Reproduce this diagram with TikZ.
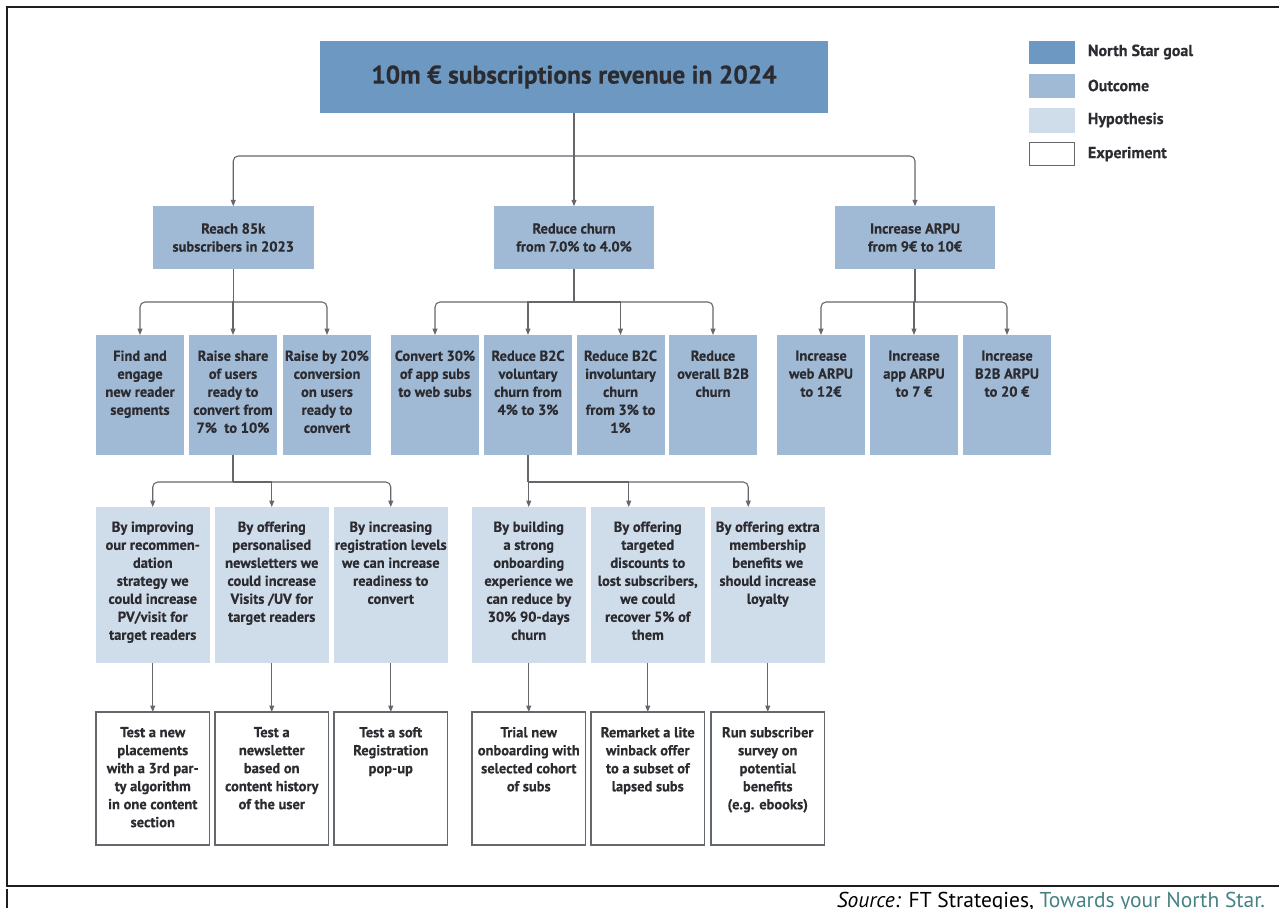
\documentclass[tikz,border=0pt]{standalone}
\usepackage{fontspec}
\setmainfont{PT Sans}[BoldFeatures={FakeBold=0.35}]
\newfontfamily\srcfont{PT Sans}
\usetikzlibrary{arrows.meta}
\definecolor{nsg}{RGB}{108,152,194}
\definecolor{outc}{RGB}{160,186,214}
\definecolor{hypc}{RGB}{207,220,234}
\definecolor{txtc}{RGB}{43,43,48}
\definecolor{linec}{RGB}{100,104,108}
\definecolor{srcteal}{RGB}{70,130,132}
\definecolor{framec}{RGB}{30,30,30}
\begin{document}
\begin{tikzpicture}[x=1pt,y=-1pt,
  every node/.style={inner sep=0pt, outer sep=0pt},
  goalbox/.style={fill=nsg, draw=none},
  outbox/.style={fill=outc, draw=none, minimum width=88, minimum height=120, anchor=north west},
  hypbox/.style={fill=hypc, draw=none, minimum width=113.5, minimum height=156, anchor=north west},
  expbox/.style={fill=white, draw=linec, line width=1.2pt, minimum width=113.5, minimum height=133, anchor=north west},
  lbl/.style={text=txtc, font=\bfseries\fontsize{14.5}{18}\selectfont, align=center},
  lgd/.style={text=txtc, font=\bfseries\fontsize{16}{18}\selectfont, anchor=west},
  conn/.style={draw=linec, line width=1.1pt},
  arr/.style={conn, -{Triangle[length=6.5pt,width=5pt]}},
  frameline/.style={draw=framec, line width=2pt}
]
\useasboundingbox (0,0) rectangle (1279,908);
\fill[white] (0,0) rectangle (1279,908);

% frame
\draw[frameline] (1279,7) -- (6.5,7) -- (6.5,886) -- (1279,886);
\draw[frameline] (6.5,888.5) -- (6.5,908);

% North star goal
\node[goalbox, minimum width=508, minimum height=72, text=txtc,
      font=\bfseries\fontsize{25.5}{30}\selectfont] (t) at (574,77) {10m € subscriptions revenue in 2024};

% legend
\node[goalbox, minimum width=46, minimum height=23, anchor=north west] (lg1) at (1029,41) {};
\node[fill=outc, minimum width=46, minimum height=24, anchor=north west] (lg2) at (1029,74) {};
\node[fill=hypc, minimum width=46, minimum height=25, anchor=north west] (lg3) at (1029,108) {};
\node[draw=linec, line width=1.1pt, fill=white, minimum width=45, minimum height=23, anchor=north west] (lg4) at (1029.5,142.5) {};
\node[lgd] (lg1t) at (1088,52) {North Star goal};
\node[lgd] (lg2t) at (1088,85.5) {Outcome};
\node[lgd] (lg3t) at (1088,120) {Hypothesis};
\node[lgd] (lg4t) at (1088,154) {Experiment};

% outcomes level 1
\node[fill=outc, minimum width=160.5, minimum height=62.5, lbl] (a) at (233.25,237.5) {Reach 85k\\subscribers in 2023};
\node[fill=outc, minimum width=160, minimum height=62.5, lbl] (b) at (574,237.5) {Reduce churn\\from 7.0\% to 4.0\%};
\node[fill=outc, minimum width=160, minimum height=62.5, lbl] (c) at (915,237.5) {Increase ARPU\\from 9€ to 10€};

% outcomes level 2
\node[outbox] (a1) at (96,335) {};
\node[outbox] (a2) at (189,335) {};
\node[outbox] (a3) at (283,335) {};
\node[outbox] (b1) at (391,335) {};
\node[outbox] (b2) at (484,335) {};
\node[outbox] (b3) at (576.5,335) {};
\node[outbox] (b4) at (669,335) {};
\node[outbox] (c1) at (777,335) {};
\node[outbox] (c2) at (870,335) {};
\node[outbox] (c3) at (963,335) {};

\node[lbl, anchor=north] (a1t) at ([yshift=-15.5pt]a1.north) {Find and\\engage\\new reader\\segments};
\node[lbl, anchor=north] (a2t) at ([yshift=-15.5pt]a2.north) {Raise share\\of users\\ready to\\convert from\\7\% \ to 10\%};
\node[lbl, anchor=north] (a3t) at ([yshift=-15.5pt]a3.north) {Raise by 20\%\\conversion\\on users\\ready to\\convert};
\node[lbl, anchor=north] (b1t) at ([yshift=-15.5pt]b1.north) {Convert 30\%\\of app subs\\to web subs};
\node[lbl, anchor=north] (b2t) at ([yshift=-15.5pt]b2.north) {Reduce B2C\\voluntary\\churn from\\4\% to 3\%};
\node[lbl, anchor=north] (b3t) at ([yshift=-15.5pt]b3.north) {Reduce B2C\\involuntary\\churn\\from 3\% to\\1\%};
\node[lbl, anchor=north] (b4t) at ([yshift=-15.5pt]b4.north) {Reduce\\overall B2B\\churn};
\node[lbl, anchor=north] (c1t) at ([yshift=-15.5pt]c1.north) {Increase\\web ARPU\\to 12€};
\node[lbl, anchor=north] (c2t) at ([yshift=-15.5pt]c2.north) {Increase\\app ARPU\\to 7 €};
\node[lbl, anchor=north] (c3t) at ([yshift=-15.5pt]c3.north) {Increase\\B2B ARPU\\to 20 €};

% hypotheses
\node[hypbox] (h1) at (96,507) {};
\node[hypbox] (h2) at (215,507) {};
\node[hypbox] (h3) at (334,507) {};
\node[hypbox] (h4) at (472,507) {};
\node[hypbox] (h5) at (591,507) {};
\node[hypbox] (h6) at (711,507) {};

\node[lbl, anchor=north] (h1t) at ([yshift=-14.5pt]h1.north) {By improving\\our recommen-\\dation\\strategy we\\could increase\\PV/visit for\\target readers};
\node[lbl, anchor=north] (h2t) at ([yshift=-14.5pt]h2.north) {By offering\\personalised\\newsletters we\\could increase\\Visits /UV for\\target readers};
\node[lbl, anchor=north] (h3t) at ([yshift=-14.5pt]h3.north) {By increasing\\registration levels\\we can increase\\readiness to\\convert};
\node[lbl, anchor=north] (h4t) at ([yshift=-14.5pt]h4.north) {By building\\a strong\\onboarding\\experience we\\can reduce by\\30\% 90-days\\churn};
\node[lbl, anchor=north] (h5t) at ([yshift=-14.5pt]h5.north) {By offering\\targeted\\discounts to\\lost subscribers,\\we could\\recover 5\% of\\them};
\node[lbl, anchor=north] (h6t) at ([yshift=-14.5pt]h6.north) {By offering extra\\membership\\benefits we\\should increase\\loyalty};

% experiments
\node[expbox] (e1) at (96,712) {};
\node[expbox] (e2) at (215,712) {};
\node[expbox] (e3) at (334,712) {};
\node[expbox] (e4) at (472,712) {};
\node[expbox] (e5) at (591,712) {};
\node[expbox] (e6) at (711,712) {};

\node[lbl, anchor=north] (e1t) at ([yshift=-15pt]e1.north) {Test a new\\placements\\with a 3rd par-\\ty algorithm\\in one content\\section};
\node[lbl, anchor=north] (e2t) at ([yshift=-15pt]e2.north) {Test a\\newsletter\\based on\\content history\\of the user};
\node[lbl, anchor=north] (e3t) at ([yshift=-15pt]e3.north) {Test a soft\\Registration\\pop-up};
\node[lbl, anchor=north] (e4t) at ([yshift=-15pt]e4.north) {Trial new\\onboarding with\\selected cohort\\of subs};
\node[lbl, anchor=north] (e5t) at ([yshift=-15pt]e5.north) {Remarket a lite\\winback offer\\to a subset of\\lapsed subs};
\node[lbl, anchor=north] (e6t) at ([yshift=-15pt]e6.north) {Run subscriber\\survey on\\potential\\benefits\\(e.g. ebooks)};

% connectors: goal -> outcomes
\coordinate (j0) at (574,156);
\draw[conn] (t.south) -- (j0);
\draw[arr, rounded corners=5pt] (j0) -| (a.north);
\draw[arr] (j0) -- (b.north);
\draw[arr, rounded corners=5pt] (j0) -| (c.north);

% outcomes -> sub-outcomes
\coordinate (ja) at (233.25,302);
\draw[conn] (a.south) -- (ja);
\draw[arr, rounded corners=5pt] (ja) -| (a1.north);
\draw[arr] (ja) -| (a2.north);
\draw[arr, rounded corners=5pt] (ja) -| (a3.north);

\coordinate (jb) at (574,302);
\draw[conn] (b.south) -- (jb);
\draw[arr, rounded corners=5pt] (jb) -| (b1.north);
\draw[arr] (jb) -| (b2.north);
\draw[arr] (jb) -| (b3.north);
\draw[arr, rounded corners=5pt] (jb) -| (b4.north);

\coordinate (jc) at (915,302);
\draw[conn] (c.south) -- (jc);
\draw[arr, rounded corners=5pt] (jc) -| (c1.north);
\draw[arr] (jc) -| (c2.north);
\draw[arr, rounded corners=5pt] (jc) -| (c3.north);

% sub-outcomes -> hypotheses
\coordinate (jh1) at (233,482);
\draw[conn] (a2.south) -- (jh1);
\draw[arr, rounded corners=5pt] (jh1) -| (h1.north);
\draw[arr] (jh1) -| (h2.north);
\draw[arr, rounded corners=5pt] (jh1) -| (h3.north);

\coordinate (jh2) at (528,482);
\draw[conn] (b2.south) -- (jh2);
\draw[arr] (jh2) -| (h4.north);
\draw[arr] (jh2) -| ([xshift=-19pt]h5.north);
\draw[arr, rounded corners=5pt] (jh2) -| ([xshift=-19.5pt]h6.north);

% hypotheses -> experiments
\draw[arr] (h1.south) -- (e1.north);
\draw[arr] (h2.south) -- (e2.north);
\draw[arr] (h3.south) -- (e3.north);
\draw[arr] (h4.south) -- (e4.north);
\draw[arr] (h5.south) -- (e5.north);
\draw[arr] (h6.south) -- (e6.north);

% source
\node[anchor=north east, text=black, font=\srcfont\fontsize{21.5}{24}\selectfont] (src) at (1265,892.5)
  {\textit{Source:} FT Strategies, \textcolor{srcteal}{Towards your North Star.}};
\end{tikzpicture}
\end{document}
